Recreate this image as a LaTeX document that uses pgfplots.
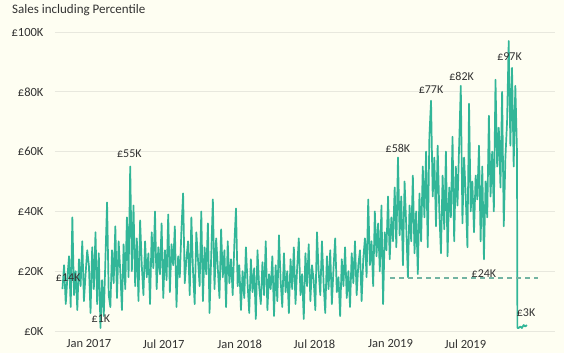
\documentclass[border=0pt]{standalone}
\usepackage{fontspec}
\setmainfont{Carlito}
\usepackage{pgfplots}
\pgfplotsset{compat=1.18}
\definecolor{bg}{RGB}{254,254,242}
\definecolor{teal1}{RGB}{50,182,152}
\definecolor{dashc}{RGB}{115,180,162}
\definecolor{gridc}{RGB}{232,232,222}
\definecolor{txt}{RGB}{50,50,50}
\begin{document}
\begin{tikzpicture}
\useasboundingbox (0pt,0pt) rectangle (564pt,353pt);
\fill[bg] (0pt,0pt) rectangle (564pt,353pt);
\node[anchor=west, font=\fontsize{13}{15}\selectfont, text=txt, inner sep=0] at (12pt,343pt) {Sales including Percentile};
\begin{axis}[at={(55pt,22pt)}, anchor=south west,
  scale only axis, width=500pt, height=299pt,
  xmin=-82, xmax=1128, ymin=0, ymax=100,
  axis line style={draw=none}, tick style={draw=none},
  ymajorgrids, grid style={gridc, line width=0.7pt},
  ytick={0,20,40,60,80,100},
  yticklabels={£0K,£20K,£40K,£60K,£80K,£100K},
  xtick={0,181,365,546,730,911},
  xticklabels={Jan 2017,Jul 2017,Jan 2018,Jul 2018,Jan 2019,Jul 2019},
  ticklabel style={font=\fontsize{12.5}{14}\selectfont, text=txt},
  yticklabel style={anchor=east, xshift=-8pt},
  xticklabel style={yshift=-5pt},
  clip=false]
\addplot[teal1, line width=1.7pt, line join=round] coordinates {
(-64,14)(-60,22)(-56,9)(-52,18)(-48,25)(-44,8)(-40,38)(-36,12)(-32,20)(-28,7)(-24,24)(-20,15)(-16,30)(-12,10)(-8,19)(-4,27)
(0,22)(4,6)(8,28)(12,14)(16,33)(20,9)(24,26)(28,1)(32,17)(36,5)(40,24)(44,43)(48,12)(52,8)(56,27)(60,16)(64,35)(68,11)(72,30)(76,20)(80,7)(84,29)(88,14)(92,38)(96,18)(100,55)(104,20)
(108,42)(112,15)(116,31)(120,10)(124,37)(128,22)(132,12)(136,30)(140,18)(144,26)(148,9)(152,33)(156,21)(160,40)(164,14)(168,28)(172,19)(176,36)(180,11)(184,27)(188,17)(192,39)(196,13)(200,29)(204,22)(208,35)(212,8)(216,25)(220,18)(224,34)(228,46)(232,16)(236,24)
(240,30)(244,12)(248,38)(252,20)(256,9)(260,33)(264,24)(268,15)(272,40)(276,10)(280,28)(284,19)(288,36)(292,6)(296,25)(300,44)(304,14)(308,31)(312,21)(316,11)(320,34)(324,18)(328,27)(332,8)(336,30)(340,16)(344,24)(348,12)(352,29)(356,41)(360,15)(364,22)(368,7)
(372,20)(376,11)(380,28)(384,16)(388,6)(392,24)(396,13)(400,21)(404,4)(408,27)(412,15)(416,9)(420,23)(424,12)(428,30)(432,7)(436,19)(440,14)(444,25)(448,5)(452,22)(456,10)(460,32)(464,17)(468,8)(472,26)(476,13)(480,20)(484,6)(488,24)
(492,14)(496,28)(500,9)(504,21)(508,31)(512,12)(516,19)(520,4)(524,26)(528,15)(532,29)(536,10)(540,22)(544,17)(548,7)(552,33)(556,20)(560,12)(564,30)(568,16)(572,6)(576,25)(580,14)(584,27)(588,9)(592,21)(596,31)(600,13)(604,18)(608,5)(612,24)(616,15)(620,28)(624,11)(628,20)(632,8)(636,26)(640,16)(644,30)(648,12)(652,22)(656,27)(660,10)(664,24)(668,31)(672,18)
(676,44)(680,22)(684,30)(688,15)(692,40)(696,25)(700,36)(704,20)(708,42)(712,9)(716,33)(720,27)(724,45)(728,24)(732,38)(736,30)(740,48)(744,28)
(748,58)(752,32)(756,45)(760,22)(764,50)(768,35)(772,18)(776,42)(780,30)(784,52)(788,26)(792,40)(796,19)(800,46)
(804,30)(808,55)(812,38)(816,60)(820,28)(824,65)(828,77)(832,45)(836,58)(840,35)(844,62)(848,40)(852,26)
(856,52)(860,34)(864,60)(868,25)(872,48)(876,38)(880,65)(884,30)(888,55)(892,42)(896,62)(900,82)(904,36)(908,58)(912,45)(916,28)(920,76)(924,40)(928,50)(932,33)(936,52)(940,44)(944,62)(948,30)(952,55)(956,24)
(960,50)(964,38)(968,72)(972,45)(976,60)(980,40)(984,84)(988,55)(992,68)(996,48)(1000,80)(1004,35)(1008,58)(1012,70)(1016,97)(1020,62)(1024,88)(1028,55)(1032,82)(1036,60)
(1037,1)(1040,1)(1044,1.5)(1048,1)(1052,2)(1056,1.5)(1060,2)
};
\addplot[dashc, line width=1.6pt, dash pattern=on 5pt off 4pt] coordinates {(729,17.7)(1087,17.7)};
\begin{scope}[every node/.style={font=\fontsize{12}{14}\selectfont, text=txt, inner sep=0}]
\node at (axis cs:-50,18) {£14K};
\node at (axis cs:29,4) {£1K};
\node at (axis cs:98,59.3) {£55K};
\node at (axis cs:748,61) {£58K};
\node at (axis cs:828,80.7) {£77K};
\node at (axis cs:902,85) {£82K};
\node at (axis cs:1018,91.7) {£97K};
\node at (axis cs:956,19.3) {£24K};
\node at (axis cs:1058,6) {£3K};
\end{scope}
\end{axis}
\end{tikzpicture}
\end{document}
